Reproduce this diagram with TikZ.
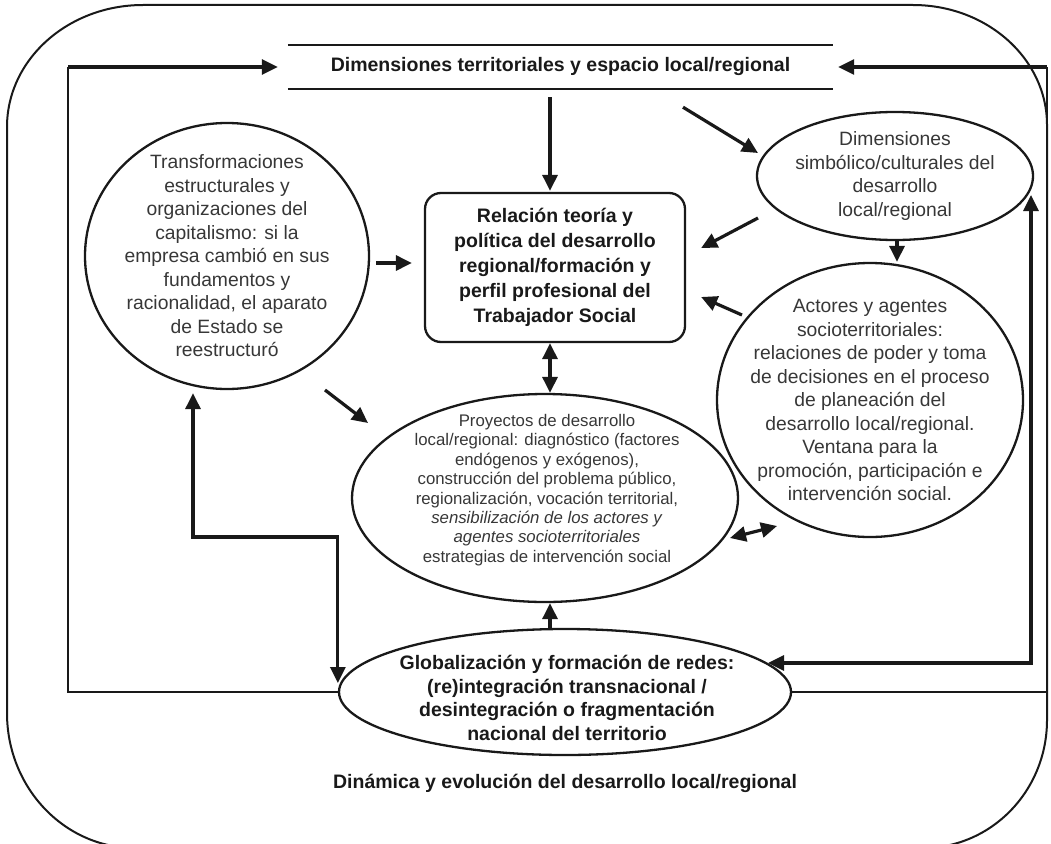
\documentclass[tikz,border=0pt]{standalone}
\usepackage{fontspec}
\setmainfont{Liberation Sans}
\usetikzlibrary{shapes.geometric,arrows.meta,calc}
\definecolor{ink}{RGB}{25,25,25}
\definecolor{txtgray}{RGB}{55,55,55}
\tikzset{
  ell/.style={draw=ink, line width=2.3pt, ellipse, inner sep=0pt},
  reg/.style={font=\fontsize{19.3}{23.5}\selectfont, text=txtgray, align=center, inner sep=0pt},
  bld/.style={font=\fontsize{19.5}{25}\selectfont\bfseries, text=ink, align=center, inner sep=0pt},
  arr/.style={draw=ink, line width=3.2pt, -{Triangle[length=16pt,width=15pt]}},
  darr/.style={draw=ink, line width=3.2pt, {Triangle[length=16pt,width=15pt]}-{Triangle[length=16pt,width=15pt]}},
  framel/.style={draw=ink, line width=2.5pt},
  outer/.style={draw=ink, line width=2pt},
}
\begin{document}
\begin{tikzpicture}[x=1pt,y=-1pt]
\useasboundingbox (0,0) rectangle (1051,843);
\clip (0,0) rectangle (1051,843);

% outer rounded frame
\draw[outer] (7,127) -- (7,713) .. controls (7,787.6) and (64.3,848) .. (135,848)
  -- (923,848) .. controls (991.5,848) and (1047,790.7) .. (1047,720)
  -- (1047,125) .. controls (1047,58.7) and (987,5) .. (913,5)
  -- (143,5) .. controls (67.9,5) and (7,59.6) .. cycle;

% top band
\node[bld, minimum width=545pt, minimum height=44pt] (dt) at (560.5,67) {Dimensiones territoriales y espacio local/regional};
\draw[framel] (dt.north west) -- (dt.north east);
\draw[framel] (dt.south west) -- (dt.south east);

% left circle
\node[ell, minimum width=284pt, minimum height=266pt] (tr) at (227,256) {};
\node[reg] at (tr.center) {Transformaciones\\estructurales y\\organizaciones del\\capitalismo: si la\\empresa cambió en sus\\fundamentos y\\racionalidad, el aparato\\de Estado se\\reestructuró};

% central box
\node[draw=ink, line width=2.3pt, rounded corners=16pt, minimum width=260pt, minimum height=149pt, bld] (rel) at (555,267.5)
  {Relación teoría y\\política del desarrollo\\regional/formación y\\perfil profesional del\\Trabajador Social};

% simbolico ellipse
\node[ell, minimum width=276pt, minimum height=128pt] (sim) at (895,176) {};
\node[reg] at (sim.center) {Dimensiones\\simbólico/culturales del\\desarrollo\\local/regional};

% actores
\node[ell, minimum width=306pt, minimum height=274pt] (act) at (870,400) {};
\node[reg] at (act.center) {Actores y agentes\\socioterritoriales:\\relaciones de poder y toma\\de decisiones en el proceso\\de planeación del\\desarrollo local/regional.\\Ventana para la\\promoción, participación e\\intervención social.};

% proyectos
\node[ell, minimum width=386pt, minimum height=208pt] (pro) at (545,498) {};
\node[reg, font=\fontsize{16.8}{19.4}\selectfont] at ([shift={(2,-8)}]pro.center) {Proyectos de desarrollo\\local/regional: diagnóstico (factores\\endógenos y exógenos),\\construcción del problema público,\\regionalización, vocación territorial,\\\textit{sensibilización de los actores y}\\\textit{agentes socioterritoriales}\\estrategias de intervención social};

% globalizacion
\node[ell, minimum width=452pt, minimum height=126pt] (glo) at (565,692) {};
\node[bld, font=\fontsize{19.5}{23.5}\selectfont\bfseries] at ([shift={(2,6)}]glo.center) {Globalización y formación de redes:\\(re)integración transnacional /\\desintegración o fragmentación\\nacional del territorio};

% bottom caption
\node[bld] (din) at (565,783) {Dinámica y evolución del desarrollo local/regional};

% connectors
\draw[arr] ([shift={(6,7)}]tr.east) -- ([shift={(-12,-4.5)}]rel.west);
\draw[arr] ([shift={(-10.5,8)}]dt.south) -- ([shift={(-5,-1)}]rel.north);
\draw[arr] ([shift={(122.5,18)}]dt.south) -- ([shift={(-137,-23)}]sim.center);
\draw[arr] ([shift={(-137,42)}]sim.center) -- ([shift={(15,-19.5)}]rel.east);
\draw[arr] ([shift={(-128,-85)}]act.center) -- ([shift={(15,29.5)}]rel.east);
\draw[arr] ([shift={(2,0)}]sim.south) -- ([shift={(2,0)}]sim.south |- act.north);
\draw[darr] ([shift={(-5,0)}]rel.south) -- ([shift={(-5,0)}]rel.south |- pro.north);
\draw[arr] ([shift={(98,134)}]tr.center) -- ([shift={(-177,-75)}]pro.center);
\draw[darr] ([shift={(185,40)}]pro.center) -- ([shift={(-93,126)}]act.center);
\draw[arr] ([shift={(-15,0)}]glo.north) -- ([shift={(-15,0)}]glo.north |- pro.south);
\draw[darr] ([shift={(-34,3)}]tr.south) |- ([shift={(0,-155)}]glo.west) -- ([shift={(0,-9)}]glo.west);

\coordinate (lf) at (68,67);
\coordinate (rf) at (1047,67);
\draw[framel] (glo.west) -| (lf);
\draw[arr] (lf) -- ([shift={(-10,0)}]dt.west);
\draw[framel] (glo.east) -| (rf);
\draw[arr] (rf) -- ([shift={(5,0)}]dt.east);
\draw[darr] ([shift={(136,19)}]sim.center) |- ([shift={(203,-29)}]glo.center);
\end{tikzpicture}
\end{document}
